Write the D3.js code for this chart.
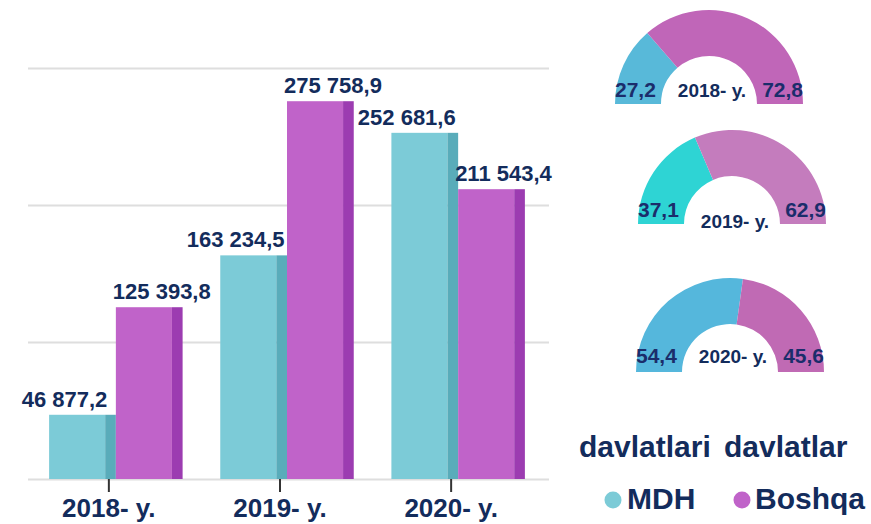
<!DOCTYPE html>
<head>
  <meta charset="utf-8">
  <script src="https://d3js.org/d3.v7.min.js"></script>
  <style>
    body { margin: 0; background: #fff; }
    svg { font-family: "Liberation Sans", Arial, sans-serif; font-weight: bold; }
    .grid line { stroke: #dedede; stroke-width: 2; }
    .grid path { display: none; }
    .value { fill: #132c5c; font-size: 22px; }
    .year { fill: #132c5c; font-size: 26px; text-anchor: middle; }
    .pct { fill: #1b2d6b; font-size: 21px; }
    .dlabel { fill: #132c5c; font-size: 19px; text-anchor: middle; }
    .legend text { fill: #132c5c; font-size: 30px; }
  </style>
</head>
<body>
<div id="chart"></div>
<script>
// data
var years = ["2018- y.", "2019- y.", "2020- y."];
var mdhValues = [46877.2, 163234.5, 252681.6];
var boshqaValues = [125393.8, 275758.9, 211543.4];
var mdhShare = [27.2, 37.1, 54.4];
var boshqaShare = [72.8, 62.9, 45.6];
var seriesNames = ["MDH", "Boshqa"];
var seriesSub = ["davlatlari", "davlatlar"];
var gridTicks = [0, 100000, 200000, 300000];

// styles
var front = {MDH: "#7ccbd7", Boshqa: "#c063c9"},
    side = {MDH: "#59acba", Boshqa: "#9c3cb1"};
var donutMdh = ["#58b9d9", "#2ed4d4", "#55b7dc"],
    donutBoshqa = ["#c066b8", "#c47cbd", "#c06ab4"];
var donutPos = [
  {cx: 709, cy: 104, dy: -7, ly: -7},
  {cx: 732, cy: 224, dy: -7, ly: 4},
  {cx: 730, cy: 372, dy: -9, ly: -9}
];

var loc = d3.formatLocale({decimal: ",", thousands: " ", grouping: [3], currency: ["", ""]});
var fmt = loc.format(",.1f");

var width = 871, height = 524;
var svg = d3.select("#chart").append("svg")
    .attr("width", width)
    .attr("height", height);

// bars
var rows = years.map(function(y, i) {
  return {year: y, MDH: mdhValues[i], Boshqa: boshqaValues[i]};
});

var x0 = d3.scaleBand().domain(years).range([32, 542]).paddingInner(0.22).paddingOuter(0.1);
var x1 = d3.scaleBand().domain(seriesNames).range([0, x0.bandwidth()]);
var y = d3.scaleLinear().domain([0, 300000]).range([479, 68]);

svg.append("g")
    .attr("class", "grid")
    .attr("transform", "translate(28,0)")
    .call(d3.axisLeft(y).tickValues(gridTicks).tickSize(-521).tickFormat(""));

var group = svg.selectAll(".grp")
    .data(rows)
  .enter().append("g")
    .attr("class", "grp")
    .attr("transform", function(d) { return "translate(" + x0(d.year) + ",0)"; });

var bars = group.selectAll(".bar")
    .data(function(d) { return seriesNames.map(function(k) { return {key: k, value: d[k]}; }); })
  .enter().append("g")
    .attr("class", "bar");

var fw = x1.bandwidth() * 0.84;

bars.append("rect")
    .attr("x", function(d) { return x1(d.key); })
    .attr("y", function(d) { return y(d.value); })
    .attr("width", fw)
    .attr("height", function(d) { return y(0) - y(d.value); })
    .attr("fill", function(d) { return front[d.key]; });

bars.append("rect")
    .attr("x", function(d) { return x1(d.key) + fw; })
    .attr("y", function(d) { return y(d.value); })
    .attr("width", x1.bandwidth() - fw)
    .attr("height", function(d) { return y(0) - y(d.value); })
    .attr("fill", function(d) { return side[d.key]; });

bars.append("text")
    .attr("class", "value")
    .attr("text-anchor", function(d) { return d.key === "MDH" ? "middle" : "start"; })
    .attr("x", function(d) {
      return d.key === "MDH" ? x1(d.key) + x1.bandwidth() / 2 - 18 : x1(d.key) - 3;
    })
    .attr("y", function(d) { return y(d.value) - 8; })
    .text(function(d) { return fmt(d.value); });

// x axis ticks + labels
var xa = svg.append("g").attr("transform", "translate(-7,0)");
xa.selectAll("line")
    .data(years)
  .enter().append("line")
    .attr("x1", function(d) { return x0(d) + x0.bandwidth() / 2; })
    .attr("x2", function(d) { return x0(d) + x0.bandwidth() / 2; })
    .attr("y1", y(0))
    .attr("y2", y(0) + 13)
    .attr("stroke", "#333")
    .attr("stroke-width", 2);
xa.selectAll("text")
    .data(years)
  .enter().append("text")
    .attr("class", "year")
    .attr("x", function(d) { return x0(d) + x0.bandwidth() / 2; })
    .attr("y", 517)
    .text(function(d) { return d; });

// half donuts
var pie = d3.pie().sort(null).startAngle(-Math.PI / 2).endAngle(Math.PI / 2);
var arc = d3.arc().innerRadius(48).outerRadius(94);

years.forEach(function(yr, i) {
  var p = donutPos[i];
  var g = svg.append("g").attr("transform", "translate(" + p.cx + "," + p.cy + ")");
  g.selectAll("path")
      .data(pie([mdhShare[i], boshqaShare[i]]))
    .enter().append("path")
      .attr("d", arc)
      .attr("fill", function(d, j) { return j === 0 ? donutMdh[i] : donutBoshqa[i]; });
  g.append("text").attr("class", "pct")
      .attr("x", -94).attr("y", p.dy)
      .text(loc.format(".1f")(mdhShare[i]));
  g.append("text").attr("class", "pct")
      .attr("x", 94).attr("y", p.dy)
      .attr("text-anchor", "end")
      .text(loc.format(".1f")(boshqaShare[i]));
  g.append("text").attr("class", "dlabel")
      .attr("x", 3).attr("y", p.ly)
      .text(yr);
});

// legend
var legend = svg.append("g").attr("class", "legend");
var lx = [579, 724], dotX = [613, 742], nameX = [627, 755];
seriesNames.forEach(function(s, i) {
  legend.append("text").attr("x", lx[i]).attr("y", 457).text(seriesSub[i]);
  legend.append("circle").attr("cx", dotX[i]).attr("cy", 500).attr("r", 8.5).attr("fill", front[s]);
  legend.append("text").attr("x", nameX[i]).attr("y", 509).text(s);
});
</script>
</body>
